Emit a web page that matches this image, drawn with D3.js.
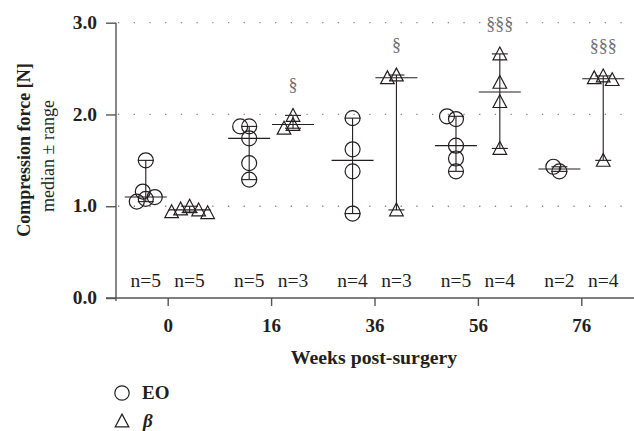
<!DOCTYPE html>
<html><head><meta charset="utf-8">
<script src="https://cdn.jsdelivr.net/npm/d3@7"></script>
<style>
body{margin:0;background:#fff;}
</style></head>
<body><svg id="chart" width="634" height="431"></svg>
<script>
const categories = ["0","16","36","56","76"];
const eoValues = [
  [1.50, 1.08, 1.05, 1.10, 1.16],
  [1.29, 1.47, 1.74, 1.87, 1.87],
  [1.96, 1.62, 1.38, 0.92],
  [1.95, 1.98, 1.66, 1.52, 1.38],
  [1.38, 1.43]
];
const betaValues = [
  [1.00, 0.97, 0.96, 0.94, 0.93],
  [1.99, 1.89, 1.85],
  [2.43, 2.40, 0.96],
  [2.66, 2.35, 2.14, 1.63],
  [2.42, 2.40, 2.38, 1.50]
];
const significance = ["", "§", "§", "§§§", "§§§"];
const yTicks = [0, 1, 2, 3];
const gridLines = [1, 2, 3];
const seriesNames = ["EO", "β"];

const FONT = "'Liberation Serif', 'DejaVu Serif', serif";
const svg = d3.select("#chart").attr("font-family", FONT);
const ink = "#231f20";
const x = d3.scalePoint().domain(categories).range([116, 633]).padding(0.5);
const y = d3.scaleLinear().domain([0, 3]).range([298, 22.7]);
const off = x.step() * 0.212;

function txt(sel) { return sel.attr("font-family", FONT).attr("fill", ink); }

// gridlines
svg.append("g").selectAll("line").data(gridLines).join("line")
  .attr("x1", 118).attr("x2", 634)
  .attr("y1", d => y(d)).attr("y2", d => y(d))
  .attr("stroke", "#888").attr("stroke-width", 1.3)
  .attr("stroke-dasharray", "1.3,14.4");

// axes
const yAxis = d3.axisLeft(y).tickValues(yTicks).tickFormat(d3.format(".1f")).tickSize(10).tickSizeOuter(0).tickPadding(9);
const gy = svg.append("g").attr("transform", "translate(116,0)").call(yAxis).attr("font-family", FONT);
gy.select(".domain").remove();
gy.append("line").attr("x1", 0).attr("x2", 0).attr("y1", y(3)).attr("y2", y(0) + 3).attr("stroke", "#555").attr("stroke-width", 1.4);
gy.selectAll(".tick line").attr("stroke", "#555").attr("stroke-width", 1.4);
txt(gy.selectAll(".tick text")).attr("font-size", 19.5).attr("font-weight", "bold").attr("dy", "0.29em");

const xAxis = d3.axisBottom(x).tickSize(8).tickSizeOuter(0).tickPadding(14);
const gx = svg.append("g").attr("transform", "translate(0,298)").call(xAxis).attr("font-family", FONT);
gx.select(".domain").remove();
gx.append("line").attr("x1", 106).attr("x2", 634).attr("y1", 0).attr("y2", 0).attr("stroke", "#555").attr("stroke-width", 1.4);
gx.selectAll(".tick line").attr("stroke", "#555").attr("stroke-width", 1.4);
txt(gx.selectAll(".tick text")).attr("font-size", 19).attr("font-weight", "bold").attr("y", 34).attr("dy", 0);

// axis titles
txt(svg.append("text")).attr("transform", "translate(30,150) rotate(-90)").attr("text-anchor", "middle")
  .attr("font-size", 18).attr("font-weight", "bold").text("Compression force [N]");
txt(svg.append("text")).attr("transform", "translate(54,156) rotate(-90)").attr("text-anchor", "middle")
  .attr("font-size", 18).attr("font-weight", "normal").text("median ± range");
txt(svg.append("text")).attr("x", 374).attr("y", 364).attr("text-anchor", "middle")
  .attr("font-size", 19.8).attr("font-weight", "bold").text("Weeks post-surgery");

// marker shapes
const R = 7.5;
function triPath() { const w = 6.8, h = 6.4; return `M0,${-h - 0.5}L${w},${h - 0.5}L${-w},${h - 0.5}Z`; }

// beeswarm-like horizontal spreading
function spread(vals) {
  const placed = [];
  const minDist = 7.5;
  return vals.map(v => {
    const py = y(v);
    const cands = [0];
    for (let k = 1; k <= 8; k++) { cands.push(-k * 3, k * 3); }
    let best = cands[cands.length - 1];
    for (const c of cands) {
      if (placed.every(p => Math.hypot(p.dx - c, p.py - py) >= minDist)) { best = c; break; }
    }
    placed.push({dx: best, py});
    return best;
  });
}

const groups = [
  {vals: eoValues, shift: -off, shape: "circle"},
  {vals: betaValues, shift: off, shape: "triangle"}
];

groups.forEach(g => {
  g.vals.forEach((vals, i) => {
    const cx = x(categories[i]) + g.shift;
    const layer = svg.append("g");
    const med = d3.median(vals), mn = d3.min(vals), mx = d3.max(vals);
    layer.append("line").attr("x1", cx).attr("x2", cx).attr("y1", y(mn)).attr("y2", y(mx)).attr("stroke", ink).attr("stroke-width", 1.1);
    [mn, mx].forEach(v => layer.append("line").attr("x1", cx - 8).attr("x2", cx + 8).attr("y1", y(v)).attr("y2", y(v)).attr("stroke", ink).attr("stroke-width", 1.1));
    layer.append("line").attr("x1", cx - 21).attr("x2", cx + 21).attr("y1", y(med)).attr("y2", y(med)).attr("stroke", ink).attr("stroke-width", 1.1);
    const dxs = spread(vals);
    vals.forEach((v, j) => {
      if (g.shape === "circle") {
        layer.append("circle").attr("cx", cx + dxs[j]).attr("cy", y(v)).attr("r", R)
          .attr("fill", "none").attr("stroke", ink).attr("stroke-width", 1.2);
      } else {
        layer.append("path").attr("d", triPath()).attr("transform", `translate(${cx + dxs[j]},${y(v)})`)
          .attr("fill", "none").attr("stroke", ink).attr("stroke-width", 1.2);
      }
    });
    txt(svg.append("text")).attr("x", cx).attr("y", 287).attr("text-anchor", "middle").attr("font-size", 19.5)
      .attr("font-weight", "normal").text("n=" + vals.length);
  });
});

// significance marks
betaValues.forEach((vals, i) => {
  if (!significance[i]) return;
  svg.append("text").attr("font-family", FONT).attr("x", x(categories[i]) + off).attr("y", y(d3.max(vals)) - 24)
    .attr("text-anchor", "middle").attr("font-size", 18).attr("fill", "#6d6e71").text(significance[i]);
});

// legend
const leg = svg.append("g");
leg.append("circle").attr("cx", 122).attr("cy", 393).attr("r", 7.2).attr("fill", "none").attr("stroke", ink).attr("stroke-width", 1.2);
leg.append("path").attr("d", triPath()).attr("transform", "translate(122,421)").attr("fill", "none").attr("stroke", ink).attr("stroke-width", 1.2);
txt(leg.append("text")).attr("x", 142).attr("y", 399).attr("font-size", 19).attr("font-weight", "bold").text(seriesNames[0]);
txt(leg.append("text")).attr("x", 143).attr("y", 427).attr("font-size", 19).attr("font-weight", "bold").attr("font-style", "italic").text(seriesNames[1]);
</script></body></html>
